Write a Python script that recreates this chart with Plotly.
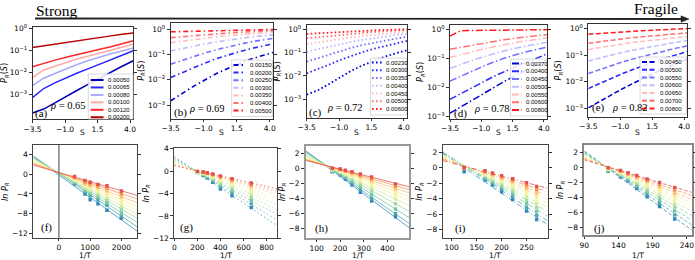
import numpy as np
import plotly.graph_objects as go

W, H = 695, 260

# ---------------- data ----------------
S_vals = [-3.5, -2.64, -1.78, -0.92, -0.06, 0.81, 1.67, 2.53, 3.39, 4.25]

T_a = [0.00050, 0.00065, 0.00080, 0.00100, 0.00120, 0.00200]
T_b = [0.00150, 0.00200, 0.00250, 0.00300, 0.00350, 0.00400, 0.00500]
T_c = [0.00230, 0.00300, 0.00350, 0.00400, 0.00450, 0.00500, 0.00600]
T_d = [0.00370, 0.00400, 0.00450, 0.00500, 0.00550, 0.00600, 0.00800]
T_e = [0.00450, 0.00500, 0.00550, 0.00600, 0.00650, 0.00700, 0.00800]

rho_vals = [0.65, 0.69, 0.72, 0.78, 0.82]

# log10 P_R(S): one row per T, one column per S
log10P_a = [
    [-3.86, -3.68, -3.40, -3.10, -2.82, -2.54, -2.26, -1.98, -1.72, -1.47],
    [-3.16, -2.74, -2.48, -2.24, -2.03, -1.83, -1.63, -1.44, -1.22, -1.01],
    [-2.61, -2.27, -2.05, -1.84, -1.64, -1.46, -1.30, -1.15, -1.02, -0.89],
    [-2.24, -1.89, -1.72, -1.55, -1.39, -1.25, -1.11, -0.98, -0.84, -0.71],
    [-1.74, -1.58, -1.44, -1.31, -1.18, -1.06, -0.94, -0.83, -0.69, -0.55],
    [-0.86, -0.78, -0.70, -0.62, -0.54, -0.47, -0.40, -0.33, -0.26, -0.20],
]
log10P_b = [
    [-2.83, -2.54, -2.26, -2.01, -1.76, -1.55, -1.36, -1.19, -1.05, -0.92],
    [-1.91, -1.71, -1.51, -1.34, -1.17, -1.02, -0.89, -0.77, -0.67, -0.58],
    [-1.38, -1.23, -1.07, -0.94, -0.81, -0.70, -0.59, -0.50, -0.43, -0.36],
    [-0.86, -0.76, -0.67, -0.58, -0.50, -0.43, -0.37, -0.31, -0.26, -0.22],
    [-0.53, -0.47, -0.41, -0.35, -0.30, -0.26, -0.21, -0.18, -0.15, -0.12],
    [-0.33, -0.29, -0.25, -0.21, -0.18, -0.15, -0.12, -0.10, -0.08, -0.06],
    [-0.10, -0.09, -0.07, -0.06, -0.05, -0.04, -0.03, -0.02, -0.015, -0.01],
]
log10P_c = [
    [-2.80, -2.62, -2.35, -2.05, -1.78, -1.55, -1.35, -1.18, -1.03, -0.90],
    [-1.89, -1.72, -1.52, -1.32, -1.14, -0.98, -0.84, -0.72, -0.60, -0.50],
    [-1.39, -1.24, -1.08, -0.93, -0.80, -0.68, -0.58, -0.49, -0.40, -0.33],
    [-0.96, -0.85, -0.74, -0.63, -0.54, -0.46, -0.38, -0.31, -0.25, -0.20],
    [-0.64, -0.56, -0.48, -0.41, -0.35, -0.29, -0.24, -0.19, -0.15, -0.11],
    [-0.39, -0.34, -0.29, -0.24, -0.20, -0.16, -0.12, -0.09, -0.06, -0.04],
    [-0.20, -0.17, -0.14, -0.11, -0.09, -0.07, -0.05, -0.03, -0.01, 0.00],
]
log10P_d = [
    [-2.90, -2.68, -2.46, -2.24, -2.02, -1.81, -1.61, -1.42, -1.23, -1.05],
    [-2.42, -2.22, -2.02, -1.83, -1.64, -1.47, -1.31, -1.15, -1.00, -0.85],
    [-1.79, -1.62, -1.45, -1.29, -1.14, -1.00, -0.89, -0.78, -0.70, -0.62],
    [-1.35, -1.21, -1.08, -0.96, -0.85, -0.75, -0.66, -0.58, -0.51, -0.45],
    [-0.97, -0.87, -0.78, -0.69, -0.61, -0.53, -0.46, -0.40, -0.35, -0.30],
    [-0.69, -0.62, -0.55, -0.48, -0.42, -0.36, -0.31, -0.26, -0.22, -0.18],
    [-0.23, -0.05, -0.04, -0.04, -0.03, -0.03, -0.02, -0.02, -0.01, -0.01],
]
log10P_e = [
    [-2.97, -2.73, -2.50, -2.28, -2.07, -1.86, -1.67, -1.49, -1.31, -1.15],
    [-2.25, -2.06, -1.88, -1.71, -1.55, -1.39, -1.25, -1.11, -0.99, -0.87],
    [-1.69, -1.54, -1.40, -1.27, -1.15, -1.04, -0.93, -0.83, -0.74, -0.66],
    [-1.22, -1.11, -1.01, -0.91, -0.82, -0.74, -0.66, -0.59, -0.52, -0.46],
    [-0.79, -0.72, -0.65, -0.59, -0.53, -0.48, -0.43, -0.39, -0.35, -0.31],
    [-0.56, -0.50, -0.45, -0.40, -0.35, -0.31, -0.27, -0.23, -0.20, -0.17],
    [-0.22, -0.19, -0.16, -0.13, -0.11, -0.09, -0.07, -0.05, -0.03, -0.01],
]

top_labels = ["(a)", "(b)", "(c)", "(d)", "(e)"]
bot_labels = ["(f)", "(g)", "(h)", "(i)", "(j)"]

# ---------------- styles ----------------
cols6 = ['#0000b8', '#2626ff', '#a8a8ff', '#ffa8a8', '#ff2626', '#b80000']
cols7 = ['#0000d0', '#2a2aff', '#7070ff', '#bcbcff', '#ffbcbc', '#ff7070', '#ff1a1a']
spectral10 = ['#3288bd', '#4fa5b1', '#73c6a5', '#a3d9a4', '#d0ec9c',
              '#eef8a6', '#fee89a', '#fdc374', '#f99455', '#e2514a']

def fx(p):
    return p / W

def fy(p):
    return 1 - p / H

# panel boxes in px: (x0, x1, ytop, ybottom)
top_boxes = [(32.5, 133.3, 26.7, 119.3), (170.7, 273.0, 22.7, 118.7),
             (306.7, 407.0, 25.0, 117.7), (450.0, 547.0, 25.0, 118.7),
             (588.3, 687.3, 24.0, 116.7)]
bot_boxes = [(33.3, 137.0, 145.0, 238.3), (174.3, 277.0, 148.3, 238.3),
             (306.0, 409.0, 145.7, 238.3), (442.7, 548.0, 145.0, 238.0),
             (584.3, 691.7, 145.0, 235.0)]

top_specs = [
    dict(T=T_a, L=log10P_a, cols=cols6, dash='solid', lw=1.5, yr=[-4.15, 0.09]),
    dict(T=T_b, L=log10P_b, cols=cols7, dash='5px,3px,1.5px,3px', lw=1.6, yr=[-3.54, 0.26]),
    dict(T=T_c, L=log10P_c, cols=cols7, dash='1.6px,2.4px', lw=1.8, yr=[-3.79, 0.18]),
    dict(T=T_d, L=log10P_d, cols=cols7, dash='7px,2.5px,1.5px,2.5px', lw=1.5, yr=[-3.09, 0.15]),
    dict(T=T_e, L=log10P_e, cols=cols7, dash='5px,2.5px', lw=1.5, yr=[-3.3, 0.16]),
]
bot_specs = [
    dict(dash='solid', xr=[-820, 2500], yr=[-12.96, 5.9], xt=[0, 1000, 2000], yt=[-12, -8, -4, 0, 4], fc='#444', fw=1.0),
    dict(dash='1.5px,2.5px', xr=[0, 890], yr=[-12, 4.1], xt=[0, 200, 400, 600, 800], yt=[-12, -8, -4, 0, 4], fc='#444', fw=1.0),
    dict(dash='solid', xr=[55, 492], yr=[-9.3, 3.0], xt=[100, 200, 300, 400], yt=[-8, -6, -4, -2, 0, 2], fc='#999', fw=2.0),
    dict(dash='5px,2px,1px,2px', xr=[82, 293], yr=[-9.05, 2.9], xt=[100, 150, 200, 250], yt=[-8, -6, -4, -2, 0, 2], fc='#444', fw=1.0),
    dict(dash='3.5px,2px', xr=[90, 247], yr=[-8.96, 2.97], xt=[90, 140, 190, 240], yt=[-8, -6, -4, -2, 0, 2], fc='#888', fw=1.5),
]

tickfont = dict(family='DejaVu Sans', size=7.5, color='black')
titlefont = dict(family='DejaVu Sans', size=8, color='black')
xtitlefont = dict(family='DejaVu Sans', size=7.5, color='black')
fig = go.Figure()
layout = {}
annotations = []
shapes = []

def akey(n, ax):
    return f'{ax}axis' if n == 1 else f'{ax}axis{n}'

def aref(n, ax):
    return ax if n == 1 else f'{ax}{n}'

# ---------------- top panels ----------------
for k, spec in enumerate(top_specs):
    n = k + 1
    for i, T in enumerate(spec['T']):
        fig.add_trace(go.Scatter(
            x=S_vals, y=[10 ** v for v in spec['L'][i]], mode='lines',
            line=dict(color=spec['cols'][i], width=spec['lw'], dash=spec['dash']),
            xaxis=aref(n, 'x'), yaxis=aref(n, 'y'), showlegend=False))
    x0, x1, yt, yb = top_boxes[k]
    layout[akey(n, 'x')] = dict(
        domain=[fx(x0), fx(x1)], anchor=aref(n, 'y'), range=[-3.5, 4.25],
        tickvals=[-3.5, -1.0, 1.5, 4.0], tickformat='.1f',
        showline=True, linecolor='#333', linewidth=1, mirror=True,
        ticks='outside', ticklen=2.5, tickcolor='#333', showgrid=False, zeroline=False,
        tickfont=tickfont)
    layout[akey(n, 'y')] = dict(
        domain=[fy(yb), fy(yt)], anchor=aref(n, 'x'), type='log', range=spec['yr'],
        tickvals=[1e-3, 1e-2, 1e-1, 1],
        ticktext=['10<sup>−3</sup>', '10<sup>−2</sup>', '10<sup>−1</sup>', '10<sup>0</sup>'],
        showline=True, linecolor='#333', linewidth=1, mirror='ticks',
        ticks='outside', ticklen=3, tickcolor='#333', showgrid=False, zeroline=False,
        tickfont=tickfont,
        title=dict(text='<i>P</i><sub><i>R</i></sub>(<i>S</i>)', font=titlefont, standoff=2))
    annotations.append(dict(text='S', xref='paper', yref='paper', x=fx((x0 + x1) / 2), y=fy(132),
                            xanchor='center', yanchor='middle', showarrow=False, borderpad=0,
                            font=xtitlefont))

# ---------------- bottom panels ----------------
for k, spec in enumerate(bot_specs):
    n = k + 6
    tspec = top_specs[k]
    invT = [1.0 / T for T in tspec['T']]
    L = np.array(tspec['L'])
    for j in range(len(S_vals)):
        lnP = L[:, j] * np.log(10.0)
        coef = np.polyfit(invT, lnP, 1)
        xr = spec['xr']
        fig.add_trace(go.Scatter(
            x=xr, y=np.polyval(coef, xr), mode='lines',
            line=dict(color=spectral10[j], width=0.9, dash=spec['dash']), opacity=0.85,
            xaxis=aref(n, 'x'), yaxis=aref(n, 'y'), showlegend=False))
        fig.add_trace(go.Scatter(
            x=invT, y=lnP, mode='markers',
            marker=dict(color=spectral10[j], size=3.4, symbol='square', line=dict(width=0)),
            xaxis=aref(n, 'x'), yaxis=aref(n, 'y'), showlegend=False))
    x0, x1, yt, yb = bot_boxes[k]
    layout[akey(n, 'x')] = dict(
        domain=[fx(x0), fx(x1)], anchor=aref(n, 'y'), range=spec['xr'],
        tickvals=spec['xt'],
        showline=True, linecolor=spec['fc'], linewidth=spec['fw'], mirror=True,
        ticks='outside', ticklen=2, tickcolor='#333', showgrid=False, zeroline=False,
        tickfont=tickfont)
    layout[akey(n, 'y')] = dict(
        domain=[fy(yb), fy(yt)], anchor=aref(n, 'x'), range=spec['yr'],
        tickvals=spec['yt'],
        showline=True, linecolor=spec['fc'], linewidth=spec['fw'], mirror='ticks',
        ticks='outside', ticklen=3, tickcolor='#333', showgrid=False, zeroline=False,
        tickfont=tickfont,
        title=dict(text='<i>ln P</i><sub><i>R</i></sub>', font=titlefont, standoff=2))
    annotations.append(dict(text='1/T', xref='paper', yref='paper', x=fx((x0 + x1) / 2), y=fy(255.8),
                            xanchor='center', yanchor='middle', showarrow=False, borderpad=0,
                            font=xtitlefont))

# vertical reference line at 1/T = 0 in (f)
shapes.append(dict(type='line', xref='x6', yref='y6 domain', x0=0, x1=0, y0=0, y1=1,
                   line=dict(color='#808080', width=1.5)))

# ---------------- legends (drawn in top panels) ----------------
legend_px = [
    (88.3, 133.0, 74.0, 119.0, 90.7, 103.5, 106.0, 80.0, 7.45),
    (231.7, 272.5, 60.0, 116.5, 233.5, 245.0, 248.0, 65.0, 7.6),
    (370.5, 406.5, 58.0, 115.0, 372.0, 382.5, 384.0, 62.5, 7.75),
    (510.5, 546.5, 59.0, 116.0, 512.0, 522.0, 524.0, 63.5, 7.75),
    (640.0, 686.5, 57.0, 114.0, 642.0, 655.0, 658.0, 62.0, 7.75),
]
for k, spec in enumerate(top_specs):
    bx0, bx1, by0, by1, lx0, lx1, tx, y0, dy = legend_px[k]
    shapes.append(dict(type='rect', xref='paper', yref='paper',
                       x0=fx(bx0), x1=fx(bx1), y0=fy(by1), y1=fy(by0),
                       line=dict(color='#d0d0d0', width=0.8), fillcolor='rgba(255,255,255,0.85)',
                       layer='above'))
    for i, T in enumerate(spec['T']):
        yy = y0 + i * dy
        shapes.append(dict(type='line', xref='paper', yref='paper',
                           x0=fx(lx0), x1=fx(lx1), y0=fy(yy), y1=fy(yy), layer='above',
                           line=dict(color=spec['cols'][i], width=2, dash=spec['dash'])))
        annotations.append(dict(text=f'{T:.5f}', xref='paper', yref='paper',
                                x=fx(tx), y=fy(yy), xanchor='left', yanchor='middle',
                                showarrow=False, font=dict(family='Liberation Sans', size=6, color='black')))

# ---------------- panel labels ----------------
serif = 'Liberation Serif'
top_lab_px = [(33, 113, 48, 105), (172, 112.5, 187, 108), (307, 112.5, 325, 107),
              (452, 113.5, 472, 108), (590, 107.5, 610, 107)]
for k in range(5):
    lx, ly, rx, ry = top_lab_px[k]
    annotations.append(dict(text=top_labels[k], xref='paper', yref='paper', x=fx(lx), y=fy(ly),
                            xanchor='left', yanchor='middle', showarrow=False,
                            font=dict(family=serif, size=11, color='black')))
    annotations.append(dict(text=f'<i>ρ</i> = {rho_vals[k]:.2f}', xref='paper', yref='paper',
                            x=fx(rx), y=fy(ry), xanchor='left', yanchor='middle', showarrow=False,
                            font=dict(family=serif, size=10.5, color='black')))
bot_lab_px = [(39, 227.5), (178, 227), (313, 228), (453, 228), (592, 228)]
for k in range(5):
    lx, ly = bot_lab_px[k]
    annotations.append(dict(text=bot_labels[k], xref='paper', yref='paper', x=fx(lx), y=fy(ly),
                            xanchor='left', yanchor='middle', showarrow=False,
                            font=dict(family=serif, size=11, color='black')))

# ---------------- Strong -> Fragile arrow ----------------
annotations.append(dict(text='Strong', xref='paper', yref='paper', x=fx(34), y=fy(10.5),
                        xanchor='left', yanchor='middle', showarrow=False,
                        font=dict(family=serif, size=15.5, color='black')))
annotations.append(dict(text='Fragile', xref='paper', yref='paper', x=fx(632), y=fy(8),
                        xanchor='left', yanchor='middle', showarrow=False,
                        font=dict(family=serif, size=15.5, color='black')))
shapes.append(dict(type='line', xref='paper', yref='paper', x0=fx(35), x1=fx(683),
                   y0=fy(18.5), y1=fy(19), line=dict(color='#222', width=1.8)))
shapes.append(dict(type='path', xref='paper', yref='paper',
                   path=f'M {fx(681)} {fy(15.8)} L {fx(689)} {fy(19)} L {fx(681)} {fy(22.2)} Z',
                   fillcolor='#222', line=dict(color='#222', width=0.5)))

fig.update_layout(
    width=W, height=H, margin=dict(l=0, r=0, t=0, b=0),
    paper_bgcolor='white', plot_bgcolor='white', template=None,
    font=dict(family='DejaVu Sans', size=8, color='black'),
    showlegend=False, shapes=shapes, annotations=annotations, **layout)

fig.write_html("out.html", config={'displayModeBar': False},
               post_script="document.body.style.margin='0px';document.body.style.overflow='hidden';")
